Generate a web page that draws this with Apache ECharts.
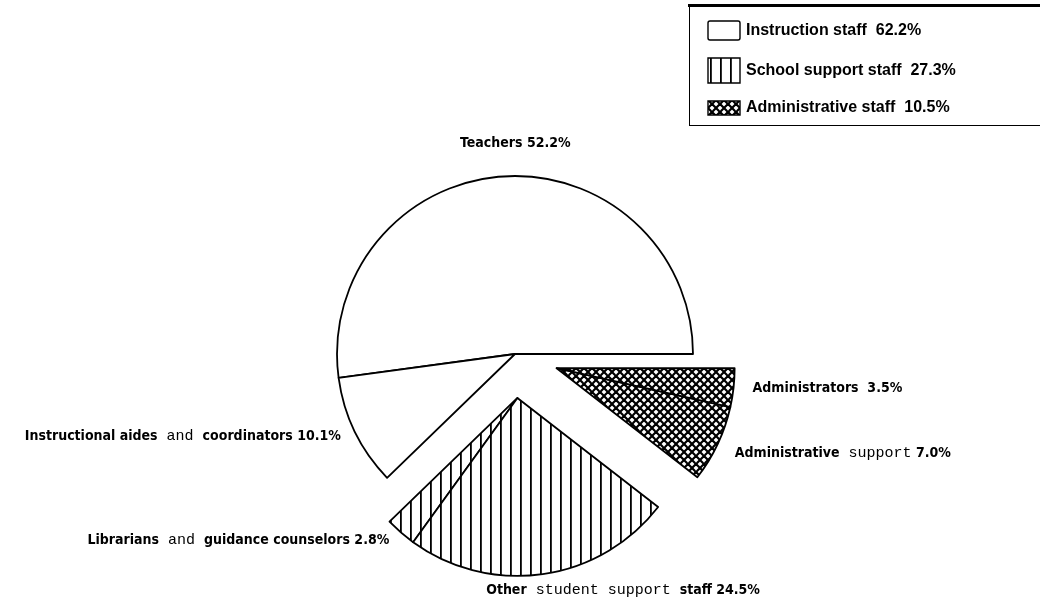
<!DOCTYPE html>
<html>
<head>
<meta charset="utf-8">
<script src="https://cdn.jsdelivr.net/npm/echarts@6/dist/echarts.min.js"></script>
<style>
  html, body { margin: 0; padding: 0; background: #fff; }
  #main { width: 1040px; height: 603px; }
</style>
</head>
<body>
<div id="main"></div>
<script>
// slices, counter-clockwise from 3 o'clock
const sliceNames = [
  'Teachers',
  'Instructional aides and coordinators',
  'Librarians and guidance counselors',
  'Other student support staff',
  'Administrative support',
  'Administrators'
];
const sliceValues = [52.2, 10.1, 2.8, 24.5, 7.0, 3.5];
const sliceGroup = [0, 0, 1, 1, 2, 2];

const groupNames = ['Instruction staff', 'School support staff', 'Administrative staff'];
const groupValues = [62.2, 27.3, 10.5];

// words printed in the typewriter face
const monoWords = ['and', 'student', 'support'];

// layout / style
const base = [515, 354];
const R = 178;
const groupExplode = [0, 44, 44];
const labelNudge = {
  'Teachers': [18, -23, 'center'],
  'Other student support staff': [-63, 6],
  'Administrative support': [3, 5],
  'Administrators': [4, 0]
};
const boldFont = '"Liberation Sans Narrow", "Arial Narrow", "DejaVu Sans Condensed", "Liberation Sans", sans-serif';
const monoFont = '"Liberation Mono", "Courier New", "DejaVu Sans Mono", monospace';

function makeStripes() {
  const c = document.createElement('canvas');
  c.width = 10; c.height = 10;
  const g = c.getContext('2d');
  g.fillStyle = '#fff'; g.fillRect(0, 0, 10, 10);
  g.fillStyle = '#000'; g.fillRect(0, 0, 1.8, 10);
  return c;
}
function makeHatch() {
  const s = 8;
  const c = document.createElement('canvas');
  c.width = s; c.height = s;
  const g = c.getContext('2d');
  g.fillStyle = '#fff'; g.fillRect(0, 0, s, s);
  g.strokeStyle = '#000'; g.lineWidth = 2.2;
  for (let k = -1; k <= 1; k++) {
    g.beginPath(); g.moveTo(-1, -1 + k * s); g.lineTo(s + 1, s + 1 + k * s); g.stroke();
    g.beginPath(); g.moveTo(-1, s + 1 + k * s); g.lineTo(s + 1, -1 + k * s); g.stroke();
  }
  return c;
}
const groupFill = [
  '#fff',
  { image: makeStripes(), repeat: 'repeat' },
  { image: makeHatch(), repeat: 'repeat' }
];

const total = sliceValues.reduce((a, b) => a + b, 0);

function groupCenter(gi) {
  let before = 0, inside = 0;
  sliceValues.forEach((v, i) => {
    if (sliceGroup[i] < gi) before += v;
    if (sliceGroup[i] === gi) inside += v;
  });
  const mid = (before + inside / 2) / total * 2 * Math.PI;
  const d = groupExplode[gi];
  return [base[0] + d * Math.cos(mid), base[1] - d * Math.sin(mid)];
}

function labelText(p) {
  const words = p.name.split(' ');
  let s = '';
  words.forEach((w, i) => {
    const mono = monoWords.includes(w);
    if (i > 0) {
      const prevMono = monoWords.includes(words[i - 1]);
      s += (mono || prevMono) ? '{m| }' : '{b| }';
    }
    s += mono ? '{m|' + w + '}' : '{b|' + w + '}';
  });
  const gap = p.name === 'Administrators' ? '  ' : ' ';
  return s + '{b|' + gap + p.value.toFixed(1) + '%}';
}

const series = groupNames.map((gname, gi) => ({
  type: 'pie',
  name: gname,
  silent: true,
  center: groupCenter(gi),
  radius: R,
  startAngle: 0,
  clockwise: false,
  avoidLabelOverlap: false,
  animation: false,
  itemStyle: { color: groupFill[gi], borderColor: '#000', borderWidth: 1.8 },
  label: {
    show: true,
    position: 'outside',
    formatter: labelText,
    rich: {
      b: { fontFamily: boldFont, fontWeight: 'bold', fontSize: 14, color: '#000' },
      m: { fontFamily: monoFont, fontSize: 15, color: '#000' }
    }
  },
  labelLine: { show: false, length: 10, length2: 0 },
  labelLayout: function (params) {
    const n = labelNudge[sliceNames[params.dataIndex]];
    if (!n) return {};
    const out = { dx: n[0], dy: n[1] };
    if (n[2]) out.align = n[2];
    return out;
  },
  data: sliceNames.map((name, i) => {
    if (sliceGroup[i] === gi) return { name: name, value: sliceValues[i] };
    return {
      name: name,
      value: sliceValues[i],
      itemStyle: { color: 'rgba(0,0,0,0)', borderWidth: 0 },
      label: { show: false }
    };
  })
}));

// legend box, top right
const legendX = 708, legendRowY = [21, 58, 101], legendRowH = [19, 25, 14];
const legend = [
  { type: 'rect', shape: { x: 688, y: 4, width: 360, height: 3 }, style: { fill: '#000' } },
  { type: 'line', shape: { x1: 689.5, y1: 5, x2: 689.5, y2: 125 }, style: { stroke: '#000', lineWidth: 1 } },
  { type: 'line', shape: { x1: 689, y1: 125.5, x2: 1040, y2: 125.5 }, style: { stroke: '#000', lineWidth: 1 } }
];
groupNames.forEach((g, gi) => {
  legend.push({
    type: 'rect',
    shape: { x: legendX, y: legendRowY[gi], width: 32, height: legendRowH[gi], r: gi === 0 ? 2 : 0 },
    style: { fill: groupFill[gi], stroke: '#000', lineWidth: 1.4 }
  });
  legend.push({
    type: 'text',
    x: legendX + 38,
    y: legendRowY[gi] + legendRowH[gi] / 2,
    style: {
      text: g + '  ' + groupValues[gi].toFixed(1) + '%',
      fill: '#000',
      font: 'bold 16px "Liberation Sans", Arial, sans-serif',
      verticalAlign: 'middle'
    }
  });
});

const chart = echarts.init(document.getElementById('main'), null, { renderer: 'canvas' });
chart.setOption({
  backgroundColor: '#fff',
  animation: false,
  series: series,
  graphic: legend
});
</script>
</body>
</html>
